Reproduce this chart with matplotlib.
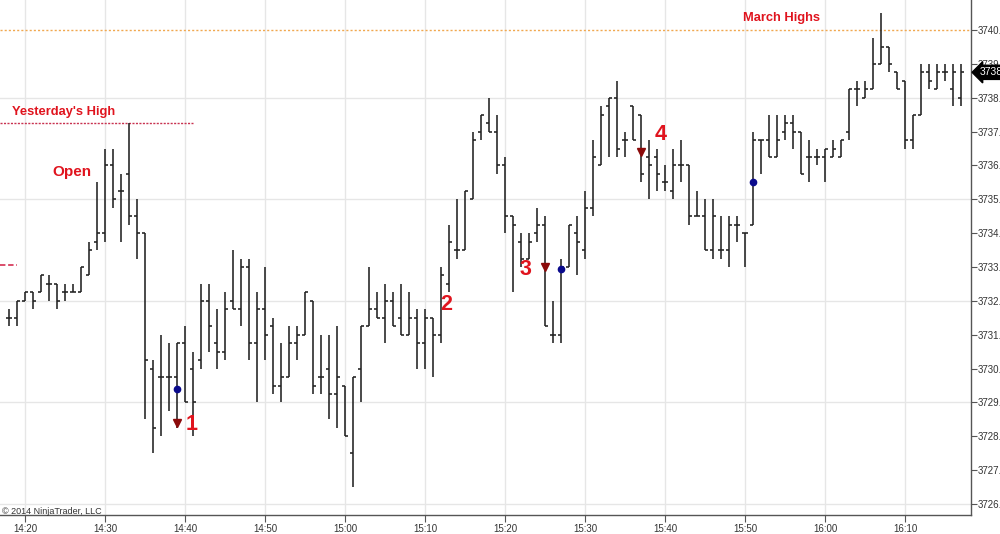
import numpy as np
import pandas as pd
import matplotlib
matplotlib.use('Agg')
import matplotlib.pyplot as plt
import matplotlib.dates as mdates
import matplotlib.transforms as mtrans

plt.rcParams['font.family'] = ['Liberation Sans', 'DejaVu Sans']

## 1분봉 OHLC (14:18 ~ 16:17)
day = '2014-03-24 '
first_bar = '14:18'

opens = [3731.50, 3731.50, 3732.00, 3732.25, 3732.25, 3732.50, 3732.50, 3732.25, 3732.25, 3732.25,
         3732.75, 3733.75, 3734.00, 3736.00, 3735.25, 3735.75, 3734.50, 3734.00, 3730.00, 3729.75,
         3729.75, 3729.75, 3730.75, 3730.00, 3730.25, 3732.00, 3730.75, 3730.50, 3732.00, 3731.75,
         3733.00, 3730.75, 3731.75, 3731.25, 3729.50, 3729.75, 3730.75, 3731.00, 3732.00, 3729.75,
         3730.00, 3729.25, 3729.50, 3727.50, 3730.00, 3731.25, 3731.75, 3731.50, 3732.00, 3731.50,
         3731.00, 3731.50, 3730.75, 3731.50, 3731.00, 3732.50, 3733.50, 3733.50, 3735.00, 3737.00,
         3737.25, 3737.00, 3736.00, 3734.50, 3733.75, 3733.25, 3734.00, 3734.25, 3731.00, 3731.00,
         3733.00, 3734.00, 3733.50, 3734.75, 3736.00, 3737.75, 3738.00, 3736.75, 3737.75, 3737.50,
         3736.25, 3736.25, 3735.50, 3735.25, 3736.00, 3736.00, 3734.50, 3734.50, 3733.50, 3733.50,
         3733.50, 3734.25, 3734.00, 3734.25, 3736.75, 3736.75, 3736.25, 3737.00, 3737.25, 3737.00,
         3736.25, 3736.25, 3736.25, 3736.25, 3736.25, 3737.00, 3738.25, 3738.00, 3738.25, 3739.00,
         3739.50, 3738.75, 3738.50, 3736.75, 3737.50, 3738.75, 3738.25, 3738.75, 3738.25, 3738.00]
highs = [3731.75, 3732.00, 3732.25, 3732.25, 3732.75, 3732.75, 3732.50, 3732.50, 3732.50, 3733.00,
         3733.75, 3735.50, 3736.50, 3736.50, 3735.75, 3737.25, 3735.00, 3734.00, 3730.25, 3731.00,
         3730.75, 3730.75, 3731.25, 3730.50, 3732.50, 3732.50, 3731.75, 3732.25, 3733.50, 3733.25,
         3733.25, 3732.25, 3733.00, 3731.50, 3730.75, 3731.25, 3731.25, 3732.25, 3732.00, 3731.00,
         3731.00, 3731.25, 3729.50, 3729.75, 3731.25, 3733.00, 3732.25, 3732.50, 3732.25, 3732.50,
         3732.25, 3731.75, 3731.75, 3731.50, 3733.00, 3734.25, 3735.00, 3735.25, 3737.00, 3737.50,
         3738.00, 3737.50, 3736.25, 3734.50, 3734.00, 3734.00, 3734.75, 3734.50, 3732.00, 3733.25,
         3734.25, 3734.50, 3735.25, 3736.75, 3737.75, 3738.00, 3738.50, 3737.00, 3737.75, 3737.50,
         3736.75, 3736.50, 3736.00, 3736.50, 3736.75, 3736.00, 3735.25, 3735.00, 3735.00, 3734.50,
         3734.50, 3734.50, 3734.00, 3737.00, 3736.75, 3737.50, 3737.50, 3737.50, 3737.50, 3737.00,
         3736.75, 3736.50, 3736.50, 3736.75, 3736.75, 3738.25, 3738.50, 3738.50, 3739.75, 3740.50,
         3739.50, 3738.75, 3738.50, 3737.50, 3739.00, 3739.00, 3739.00, 3739.00, 3739.00, 3739.00]
lows = [3731.25, 3731.25, 3732.00, 3731.75, 3732.25, 3732.00, 3731.75, 3732.00, 3732.25, 3732.25,
        3732.75, 3733.50, 3733.75, 3734.75, 3733.75, 3734.25, 3733.25, 3728.50, 3727.50, 3728.00,
        3728.75, 3728.25, 3729.00, 3728.00, 3730.00, 3730.50, 3730.00, 3730.25, 3731.75, 3731.25,
        3730.25, 3729.00, 3730.25, 3729.25, 3729.00, 3729.75, 3730.25, 3731.00, 3729.25, 3729.25,
        3728.50, 3728.25, 3728.00, 3726.50, 3729.00, 3731.25, 3731.50, 3730.75, 3731.25, 3731.00,
        3731.00, 3730.00, 3730.00, 3729.75, 3730.75, 3732.25, 3733.25, 3733.50, 3735.00, 3736.75,
        3737.00, 3735.75, 3734.00, 3732.25, 3733.00, 3733.25, 3733.75, 3731.25, 3730.75, 3730.75,
        3733.00, 3732.75, 3733.25, 3734.50, 3736.00, 3736.25, 3736.25, 3736.25, 3736.75, 3735.50,
        3735.00, 3735.25, 3735.25, 3735.00, 3735.50, 3734.25, 3734.50, 3733.50, 3733.25, 3733.25,
        3733.00, 3733.75, 3733.00, 3734.25, 3735.75, 3736.25, 3736.25, 3736.75, 3736.50, 3735.75,
        3735.50, 3736.00, 3735.50, 3736.25, 3736.25, 3736.75, 3737.75, 3738.00, 3738.25, 3739.00,
        3738.75, 3738.25, 3736.50, 3736.50, 3737.50, 3738.25, 3738.25, 3738.50, 3737.75, 3737.75]
closes = [3731.50, 3732.00, 3732.25, 3732.00, 3732.75, 3732.50, 3732.00, 3732.25, 3732.25, 3733.00,
          3733.50, 3734.00, 3736.00, 3735.00, 3735.25, 3734.50, 3734.00, 3730.25, 3728.25, 3729.75,
          3729.75, 3730.75, 3729.00, 3729.00, 3732.00, 3731.25, 3730.50, 3731.75, 3731.75, 3733.00,
          3730.75, 3731.75, 3731.00, 3729.50, 3729.75, 3730.75, 3731.00, 3732.25, 3729.50, 3729.75,
          3729.25, 3729.75, 3728.00, 3729.75, 3731.25, 3731.75, 3731.50, 3732.00, 3731.25, 3731.00,
          3731.50, 3730.75, 3731.50, 3731.00, 3732.75, 3733.75, 3733.50, 3735.25, 3736.75, 3737.50,
          3737.00, 3736.00, 3734.50, 3734.25, 3733.25, 3733.75, 3734.25, 3731.25, 3731.00, 3733.00,
          3734.25, 3733.75, 3734.75, 3736.25, 3737.50, 3738.00, 3736.50, 3736.75, 3736.75, 3735.75,
          3736.00, 3735.75, 3735.50, 3736.00, 3736.00, 3734.50, 3734.50, 3733.50, 3734.50, 3733.50,
          3734.25, 3734.25, 3734.00, 3736.75, 3736.75, 3736.25, 3736.75, 3737.25, 3737.00, 3735.75,
          3736.25, 3736.25, 3736.50, 3736.50, 3736.75, 3738.25, 3738.25, 3738.25, 3739.00, 3739.50,
          3739.00, 3738.25, 3736.75, 3737.50, 3738.75, 3738.50, 3738.75, 3738.75, 3738.75, 3738.75]

## 마커 (시간, 가격)
dot_times = ['14:39', '15:27', '15:51']
dot_prices = [3729.40, 3732.95, 3735.50]
tri_times = ['14:39', '15:25', '15:37']
tri_prices = [3728.40, 3733.00, 3736.40]

march_high = 3740.00
yest_high = 3737.25
yest_high_end = '14:41'
open_mark = 3733.05
open_mark_end = '14:19'

price_ticks = np.arange(3726, 3741, 1)
grid_levels = np.arange(3726, 3741, 3)
last_price = closes[-1]


def tm(s):
    return mdates.date2num(pd.Timestamp(day + s))


times = pd.date_range(day + first_bar, periods=len(closes), freq='min')
x = mdates.date2num(times)
w = 0.35 / 1440  # 틱 길이

fig = plt.figure(figsize=(10, 5.34), dpi=100)
ax = fig.add_axes([0, 19 / 534, 0.971, 515 / 534])

x0, x1 = tm('14:16:52.5'), tm('16:18:15')
ax.set_xlim(x0, x1)
ax.set_ylim(3725.676, 3740.886)

# grid
for g in grid_levels:
    ax.axhline(g, color='#e6e6e6', lw=1, zorder=0)
ax.xaxis.set_major_locator(mdates.MinuteLocator(byminute=range(0, 60, 10)))
ax.xaxis.set_major_formatter(mdates.DateFormatter('%H:%M'))
ax.grid(axis='x', color='#e6e6e6', lw=1, zorder=0)

# bars
bar_col = '#222222'
ax.vlines(x, lows, highs, color=bar_col, lw=1.15, zorder=3)
ax.hlines(opens, x - w, x, color=bar_col, lw=1.15, zorder=3)
ax.hlines(closes, x, x + w, color=bar_col, lw=1.15, zorder=3)

# 수평선
ax.axhline(march_high, color='#f0a850', ls=(0, (1.5, 1.5)), lw=1, zorder=2)
ax.hlines(yest_high, x0, tm(yest_high_end), color='#c83250', ls=(0, (1.5, 1)), lw=1, zorder=2)
ax.hlines(open_mark, x0, tm(open_mark_end), color='#d84060', ls=(0, (3, 1.5)), lw=1.3, zorder=2)

# markers
ax.plot([tm(t) for t in dot_times], dot_prices, 'o', color='#0a0a8c', ms=4.5, zorder=5)
ax.plot([tm(t) for t in tri_times], tri_prices, 'v', color='#8b0a0a', ms=6, zorder=5)

red = '#e0141e'
ax.text(tm('14:18:24'), 3737.58, "Yesterday's High", color=red, fontsize=9.3,
        fontweight='bold', va='center', ha='left')
ax.text(tm('14:25:54'), 3735.8, 'Open', color=red, fontsize=11,
        fontweight='bold', va='center', ha='center')
ax.text(tm('15:49:45'), 3740.35, 'March Highs', color=red, fontsize=9.3,
        fontweight='bold', va='center', ha='left')
for lab, t, p in [('1', '14:40:48', 3728.36), ('2', '15:12:36', 3731.9),
                  ('3', '15:22:36', 3732.94), ('4', '15:39:30', 3736.9)]:
    ax.text(tm(t), p, lab, color=red, fontsize=15.5, fontweight='bold',
            va='center', ha='center')

# axes style
for s in ['left', 'top']:
    ax.spines[s].set_visible(False)
for s in ['right', 'bottom']:
    ax.spines[s].set_color('#555555')
    ax.spines[s].set_linewidth(1)
ax.yaxis.tick_right()
ax.set_yticks(price_ticks)
ax.set_yticklabels(['%.2f' % p for p in price_ticks])
ax.tick_params(axis='y', direction='out', length=4, color='#555555',
               labelsize=7, labelcolor='#333333', pad=1)
ax.tick_params(axis='x', direction='out', length=5, color='#555555',
               labelsize=7, labelcolor='#333333', pad=1.5)

# 현재가 태그
tr = mtrans.blended_transform_factory(ax.transAxes, ax.transData)
ax.text(1.009, last_price, '%.2f' % last_price, transform=tr, color='white',
        fontsize=7.5, va='center', ha='left', zorder=10, clip_on=False,
        bbox=dict(boxstyle='larrow,pad=0.2', fc='black', ec='black'))

fig.text(0.002, (534 - 511) / 534, '\u00a9 2014 NinjaTrader, LLC', fontsize=6.5,
         color='#333333', va='center', ha='left')

fig.savefig('out.png', dpi=100)
